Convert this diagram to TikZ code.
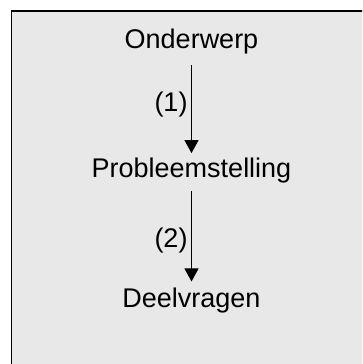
\documentclass[tikz,border=0pt]{standalone}
\usepackage{fontspec}
\setmainfont{Liberation Sans}
\usetikzlibrary{arrows.meta}
\definecolor{boxgray}{RGB}{232,232,232}
\begin{document}
\begin{tikzpicture}[x=1pt,y=1pt,
  lbl/.style={font=\fontsize{27}{32}\selectfont, inner sep=0pt, text height=20pt, text depth=6pt, anchor=base},
  edgelbl/.style={font=\fontsize{27}{32}\selectfont, inner sep=0pt, anchor=east, xshift=-3.5pt},
  conn/.style={line width=1pt, -{Triangle[width=14pt,length=13pt]}}]
\useasboundingbox (0,0) rectangle (362,364);
\begin{scope}
\clip (0,0) rectangle (362,364);
\draw[line width=1.6pt, fill=boxgray] (11.5,-20) rectangle (380,352.8);
\end{scope}
\node[lbl] (a) at (191.5,315.7) {Onderwerp};
\node[lbl] (b) at (191.5,186) {Probleemstelling};
\node[lbl] (c) at (191.5,56) {Deelvragen};
\draw[conn, shorten <=11pt, shorten >=4.7pt] (a.south) -- node[edgelbl, pos=0.48] {(1)} (b.north);
\draw[conn, shorten <=7pt, shorten >=6.3pt] (b.south) -- node[edgelbl, pos=0.54] {(2)} (c.north);
\end{tikzpicture}
\end{document}
